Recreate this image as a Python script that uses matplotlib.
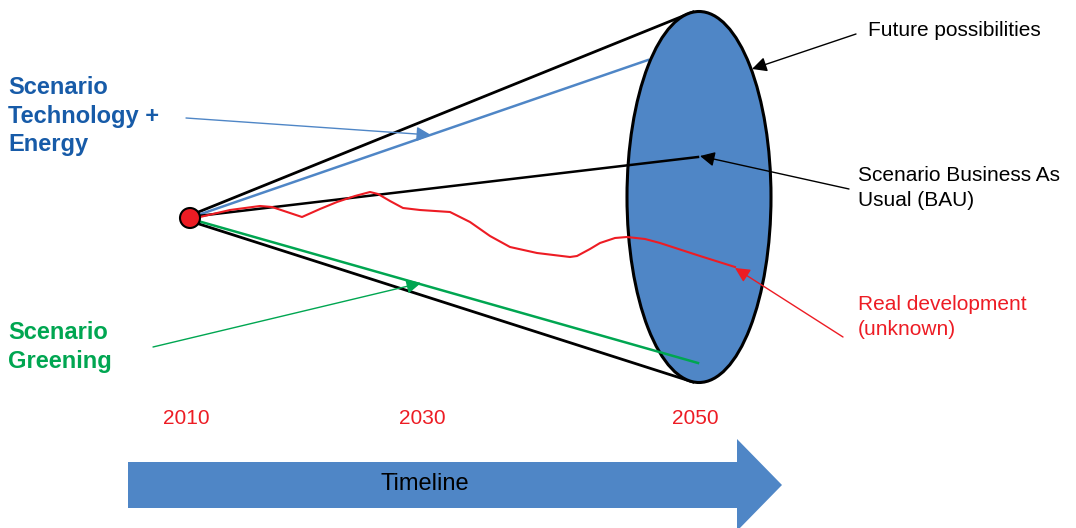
import matplotlib.pyplot as plt
from matplotlib.patches import Ellipse, Circle, FancyArrow

plt.rcParams['font.family'] = ['Liberation Sans', 'DejaVu Sans']

# colours
BLUE_FILL = "#4F86C6"
BLUE_TXT = "#175BA8"
GREEN = "#00A651"
RED = "#ED1C24"

# start point (2010) and the cone end (2050) in picture pixels
origin = (190, 218)
cone_center = (699, 197)
cone_w, cone_h = 144, 371

# scenario lines: start -> end
bau_line = [(198, 216), (698, 157)]
tech_line = [(198, 215), (648, 60)]
green_line = [(198, 221), (698, 363)]
cone_top = [(196, 213), (693, 12)]
cone_bottom = [(196, 223), (693, 382)]

# real development path
real_x = [200, 230, 260, 272, 290, 302, 320, 337, 355, 370, 378, 390, 403, 420, 450,
          470, 490, 510, 537, 570, 577, 590, 600, 615, 627, 645, 660, 700, 735]
real_y = [217, 210, 206, 207, 213, 217, 209, 202, 196, 192, 194, 201, 208, 210, 212,
          222, 236, 247, 253, 257, 256, 249, 243, 238, 237, 239, 243, 256, 267]

# years on the timeline
years = ["2010", "2030", "2050"]
year_x = [186, 422, 695]

fig = plt.figure(figsize=(10.76, 5.28), dpi=100)
ax = fig.add_axes([0, 0, 1, 1])
ax.set_xlim(0, 1076)
ax.set_ylim(528, 0)
ax.axis("off")

# cone outline
for seg in (cone_top, cone_bottom):
    ax.plot([seg[0][0], seg[1][0]], [seg[0][1], seg[1][1]], color="black", lw=2, zorder=2)
ax.plot([tech_line[0][0], tech_line[1][0]], [tech_line[0][1], tech_line[1][1]],
        color=BLUE_FILL, lw=1.8, zorder=2)

ax.add_patch(Ellipse(cone_center, cone_w, cone_h, facecolor=BLUE_FILL,
                     edgecolor="black", lw=2.2, zorder=3))

ax.plot([bau_line[0][0], bau_line[1][0]], [bau_line[0][1], bau_line[1][1]],
        color="black", lw=1.8, zorder=4)
ax.plot([green_line[0][0], green_line[1][0]], [green_line[0][1], green_line[1][1]],
        color=GREEN, lw=1.8, zorder=4)
ax.plot(real_x, real_y, color=RED, lw=1.5, zorder=5)

ax.add_patch(Circle(origin, 10, facecolor=RED, edgecolor="black", lw=1.5, zorder=6))

# label arrows
def pointer(tail, head, color):
    ax.annotate("", xy=head, xytext=tail,
                arrowprops=dict(arrowstyle="-|>", color=color, lw=1,
                                mutation_scale=22, shrinkA=0, shrinkB=0),
                zorder=7)

pointer((186, 118), (431, 135), BLUE_FILL)
pointer((153, 347), (421, 283), GREEN)
pointer((856, 34), (752, 69), "black")
pointer((849, 189), (700, 156), "black")
pointer((843, 337), (735, 268), RED)

# texts
ax.text(8, 116, "Scenario\nTechnology +\nEnergy", color=BLUE_TXT, fontsize=17,
        fontweight="bold", va="center", ha="left", linespacing=1.32)
ax.text(8, 347, "Scenario\nGreening", color=GREEN, fontsize=17,
        fontweight="bold", va="center", ha="left", linespacing=1.32)
ax.text(868, 30, "Future possibilities", fontsize=15, va="center", ha="left")
ax.text(858, 188, "Scenario Business As\nUsual (BAU)", fontsize=15, va="center",
        ha="left", linespacing=1.42)
ax.text(858, 317, "Real development\n(unknown)", color=RED, fontsize=15,
        va="center", ha="left", linespacing=1.42)

for label, x in zip(years, year_x):
    ax.text(x, 418, label, color=RED, fontsize=15, ha="center", va="center")

# timeline arrow
ax.add_patch(FancyArrow(128, 485, 654, 0, width=46, head_width=92, head_length=45,
                        length_includes_head=True, color=BLUE_FILL, lw=0, zorder=2))
ax.text(425, 484, "Timeline", fontsize=17, ha="center", va="center", zorder=3)

fig.savefig("out.png", dpi=100)
